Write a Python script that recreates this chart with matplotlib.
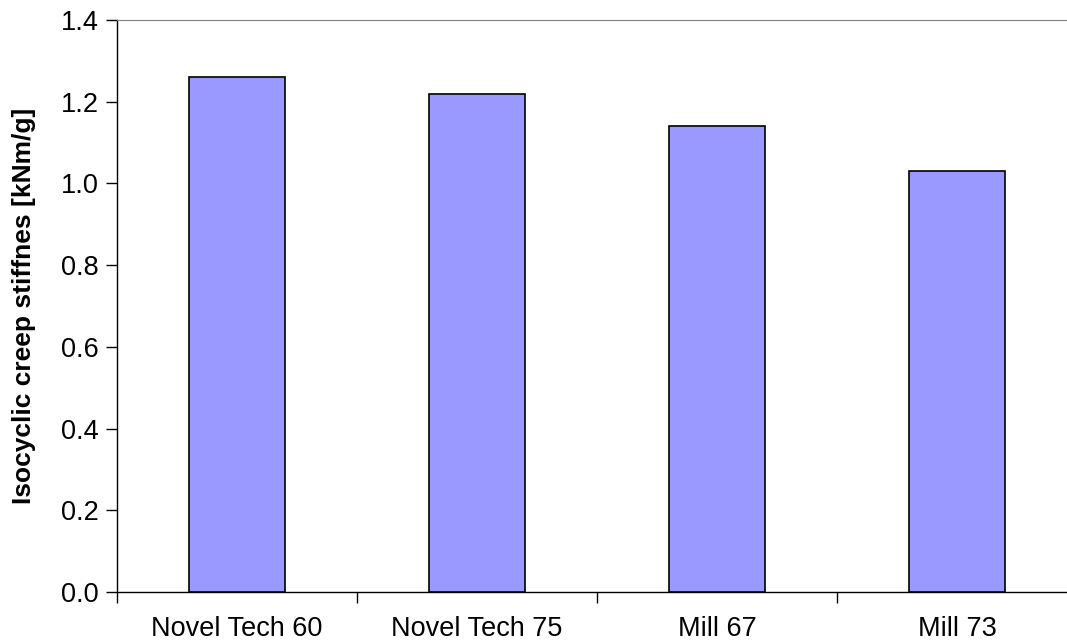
import matplotlib.pyplot as plt
import numpy as np

plt.rcParams['font.family'] = ['Liberation Sans', 'DejaVu Sans']

categories = ['Novel Tech 60', 'Novel Tech 75', 'Mill 67', 'Mill 73']
stiffness = [1.26, 1.22, 1.14, 1.03]
yticks = [0.0, 0.2, 0.4, 0.6, 0.8, 1.0, 1.2, 1.4]

fig = plt.figure(figsize=(10.67, 6.44), dpi=100)
ax = fig.add_axes([117/1067, 1-592/644, 960/1067, 572/644])

x = np.arange(len(categories))
ax.bar(x, stiffness, width=0.4, color='#9999FF', edgecolor='black', linewidth=1.2, zorder=3)

ax.set_xlim(-0.5, len(categories) - 0.5)
ax.set_ylim(0, 1.4)
ax.set_yticks(yticks)
ax.set_yticklabels(['%.1f' % v for v in yticks])

# category labels at centres, ticks at the boundaries
ax.set_xticks(x)
ax.set_xticklabels(categories)
ax.set_xticks(np.arange(len(categories) + 1) - 0.5, minor=True)
ax.tick_params(axis='x', which='major', length=0, pad=17.5, labelsize=19.5)
ax.tick_params(axis='x', which='minor', length=8, width=1, direction='out')
ax.tick_params(axis='y', length=8, width=1, direction='out', labelsize=19.5, pad=5)

ax.spines['right'].set_visible(False)
ax.spines['top'].set_color('#808080')
ax.spines['left'].set_linewidth(1)
ax.spines['bottom'].set_linewidth(1)

ax.set_ylabel('Isocyclic creep stiffnes [kNm/g]', fontsize=19, fontweight='bold')
ax.yaxis.set_label_coords(-0.084, 0.5)

plt.savefig('out.png', dpi=100)
